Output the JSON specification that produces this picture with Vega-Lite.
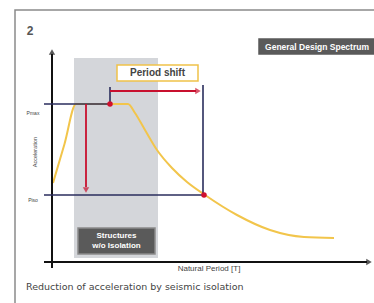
{
  "$schema": "https://vega.github.io/schema/vega-lite/v6.json",
  "width": 374,
  "height": 303,
  "padding": 0,
  "autosize": {"type": "fit", "contains": "padding"},
  "background": "white",
  "config": {"view": {"stroke": null}, "font": "Liberation Sans"},
  "datasets": {
    "frame": [{"x": 15, "x2": 400, "y": -20, "y2": 293}],
    "band": [{"x": 74, "x2": 158, "y": 45, "y2": 245}],
    "boxes": [
      {"name": "period", "x": 117, "x2": 198, "y": 222, "y2": 238},
      {"name": "gds", "x": 259, "x2": 376, "y": 249, "y2": 264},
      {"name": "struct", "x": 78, "x2": 155, "y": 49, "y2": 75}
    ],
    "axes": [
      {"x": 52, "y": 35, "x2": 52, "y2": 249},
      {"x": 44, "y": 41, "x2": 367, "y2": 41}
    ],
    "axisHeads": [
      {"x": 52, "y": 251, "shape": "triangle-up"},
      {"x": 369, "y": 41, "shape": "triangle-right"}
    ],
    "curve": [
      {"x": 53, "y": 120}, {"x": 64.5, "y": 159}, {"x": 76, "y": 199}, {"x": 128, "y": 199},
      {"x": 135, "y": 190}, {"x": 145, "y": 173}, {"x": 157, "y": 153},
      {"x": 172, "y": 135}, {"x": 187, "y": 121}, {"x": 205, "y": 108},
      {"x": 237, "y": 88}, {"x": 270, "y": 73}, {"x": 304, "y": 66},
      {"x": 334, "y": 65}
    ],
    "navy": [
      {"x": 44, "y": 199, "x2": 110, "y2": 199},
      {"x": 110, "y": 199, "x2": 110, "y2": 216},
      {"x": 203, "y": 218, "x2": 203, "y2": 108},
      {"x": 44, "y": 108, "x2": 203, "y2": 108}
    ],
    "red": [
      {"x": 86, "y": 199, "x2": 86, "y2": 116},
      {"x": 110, "y": 212, "x2": 196, "y2": 212}
    ],
    "redHeads": [
      {"x": 86, "y": 113, "shape": "triangle-down"},
      {"x": 198, "y": 212, "shape": "triangle-right"}
    ],
    "dots": [{"x": 110, "y": 199}, {"x": 204, "y": 108}],
    "small": [
      {"x": 33, "y": 190, "t": "Pmax"},
      {"x": 33, "y": 103, "t": "Piso"}
    ]
  },
  "encoding": {
    "x": {"field": "x", "type": "quantitative", "scale": {"domain": [0, 374], "nice": false, "zero": false}, "axis": null},
    "y": {"field": "y", "type": "quantitative", "scale": {"domain": [0, 303], "nice": false, "zero": false}, "axis": null}
  },
  "layer": [
    {"data": {"name": "frame"}, "mark": {"type": "rect", "fill": null, "stroke": "#8a8a8a", "strokeWidth": 1.5, "clip": true},
     "encoding": {"x2": {"field": "x2"}, "y2": {"field": "y2"}}},
    {"data": {"name": "band"}, "mark": {"type": "rect", "fill": "#d4d6da"},
     "encoding": {"x2": {"field": "x2"}, "y2": {"field": "y2"}}},
    {"data": {"name": "boxes"}, "mark": {"type": "rect", "clip": true},
     "encoding": {"x2": {"field": "x2"}, "y2": {"field": "y2"},
       "fill": {"field": "name", "type": "nominal", "scale": {"domain": ["period", "gds", "struct"], "range": ["#ffffff", "#5a5a5a", "#5a5a5a"]}, "legend": null},
       "stroke": {"field": "name", "type": "nominal", "scale": {"domain": ["period", "gds", "struct"], "range": ["#f0c24a", "#5a5a5a", "#8a8a8a"]}, "legend": null},
       "strokeWidth": {"value": 1.5}}},
    {"data": {"name": "curve"}, "mark": {"type": "line", "color": "#f2c54b", "strokeWidth": 2, "interpolate": "monotone"}, "encoding": {}},
    {"data": {"name": "axes"}, "mark": {"type": "rule", "color": "#111111", "strokeWidth": 2},
     "encoding": {"x2": {"field": "x2"}, "y2": {"field": "y2"}}},
    {"data": {"name": "axisHeads"}, "mark": {"type": "point", "filled": true, "color": "#111111", "size": 40},
     "encoding": {"shape": {"field": "shape", "type": "nominal", "scale": null}}},
    {"data": {"name": "navy"}, "mark": {"type": "rule", "color": "#2a2d5c", "strokeWidth": 1.6},
     "encoding": {"x2": {"field": "x2"}, "y2": {"field": "y2"}}},
    {"data": {"name": "red"}, "mark": {"type": "rule", "color": "#c8102e", "strokeWidth": 1.8},
     "encoding": {"x2": {"field": "x2"}, "y2": {"field": "y2"}}},
    {"data": {"name": "redHeads"}, "mark": {"type": "point", "filled": true, "color": "#c8102e", "size": 40},
     "encoding": {"shape": {"field": "shape", "type": "nominal", "scale": null}}},
    {"data": {"name": "dots"}, "mark": {"type": "circle", "color": "#d0102e", "size": 30, "opacity": 1}},
    {"data": {"values": [{"x": 157.5, "y": 230, "t": "Period shift"}]},
     "mark": {"type": "text", "fontSize": 10, "fontWeight": "bold", "color": "#444444"},
     "encoding": {"text": {"field": "t"}}},
    {"data": {"values": [{"x": 317, "y": 256.5, "t": "General Design Spectrum"}]},
     "mark": {"type": "text", "fontSize": 8.5, "fontWeight": "bold", "color": "#ffffff"},
     "encoding": {"text": {"field": "t"}}},
    {"data": {"values": [{"x": 116.5, "y": 67, "t": "Structures"}, {"x": 116.5, "y": 57, "t": "w/o Isolation"}]},
     "mark": {"type": "text", "fontSize": 8, "fontWeight": "bold", "color": "#ffffff"},
     "encoding": {"text": {"field": "t"}}},
    {"data": {"name": "small"}, "mark": {"type": "text", "fontSize": 5, "color": "#444444"},
     "encoding": {"text": {"field": "t"}}},
    {"data": {"values": [{"x": 209, "y": 34, "t": "Natural Period [T]"}]},
     "mark": {"type": "text", "fontSize": 8, "color": "#444444"},
     "encoding": {"text": {"field": "t"}}},
    {"data": {"values": [{"x": 35, "y": 151, "t": "Acceleration"}]},
     "mark": {"type": "text", "fontSize": 5.5, "color": "#444444", "angle": 270},
     "encoding": {"text": {"field": "t"}}},
    {"data": {"values": [{"x": 30, "y": 272, "t": "2"}]},
     "mark": {"type": "text", "fontSize": 12, "fontWeight": "bold", "color": "#555555"},
     "encoding": {"text": {"field": "t"}}},
    {"data": {"values": [{"x": 26, "y": 16, "t": "Reduction of acceleration by seismic isolation"}]},
     "mark": {"type": "text", "fontSize": 9.5, "font": "DejaVu Sans", "color": "#444444", "align": "left"},
     "encoding": {"text": {"field": "t"}}}
  ]
}
